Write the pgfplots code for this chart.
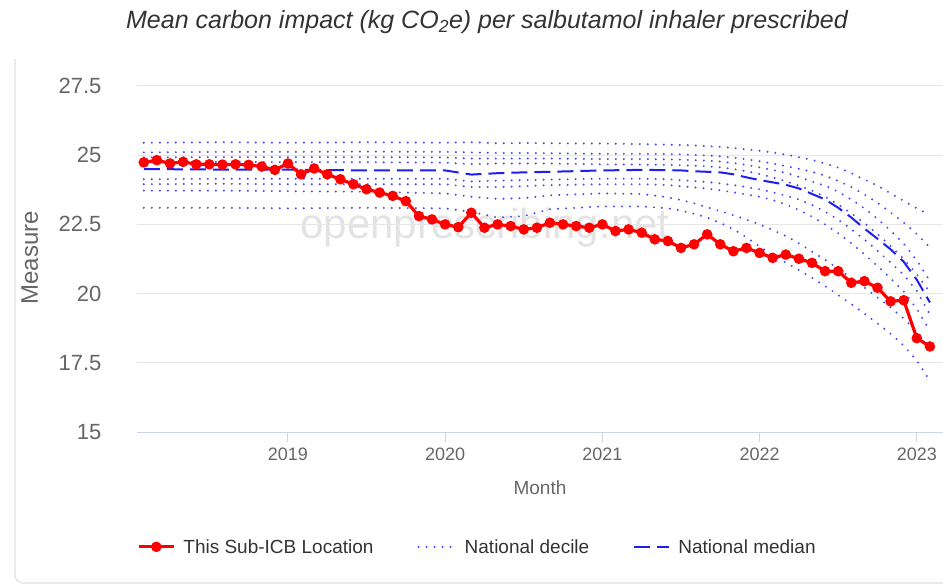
\documentclass[border=0pt]{standalone}
\usepackage{fontspec}
\setmainfont{Liberation Sans}
\usepackage{pgfplots}
\usepackage{pgfplotstable}
\pgfplotsset{compat=1.18}
\definecolor{axisc}{HTML}{CCD6EB}
\definecolor{gridc}{HTML}{E6E6E6}
\definecolor{tickc}{HTML}{666666}
\definecolor{legc}{HTML}{333333}
\definecolor{decc}{RGB}{70,70,255}
\definecolor{medc}{RGB}{30,30,240}
\definecolor{wmc}{HTML}{E3E3E3}
\definecolor{cardc}{HTML}{E0E0E0}

\pgfplotstableread{
i  d10   d20   d30   d40   d50   d60   d70   d80   d90
0  23.10 23.72 23.95 24.13 24.50 24.74 24.92 25.10 25.45
6  23.10 23.72 23.97 24.15 24.48 24.76 24.93 25.12 25.47
11 23.08 23.70 23.95 24.15 24.48 24.75 24.93 25.12 25.45
17 23.10 23.68 23.95 24.15 24.45 24.75 24.93 25.13 25.47
23 23.08 23.62 23.95 24.15 24.45 24.73 24.92 25.12 25.45
25 22.95 23.50 23.85 24.05 24.30 24.68 24.88 25.10 25.47
27 22.75 23.42 23.85 24.08 24.35 24.70 24.88 25.08 25.43
29 22.80 23.45 23.88 24.10 24.38 24.70 24.88 25.08 25.44
31 23.05 23.55 23.92 24.12 24.40 24.70 24.88 25.07 25.43
35 23.15 23.62 23.95 24.15 24.45 24.67 24.86 25.05 25.42
38 23.15 23.60 23.95 24.15 24.47 24.66 24.86 25.05 25.40
40 23.08 23.48 23.92 24.13 24.46 24.65 24.85 25.04 25.38
41 23.00 23.38 23.88 24.10 24.45 24.64 24.84 25.03 25.37
42 22.88 23.26 23.84 24.07 24.42 24.62 24.82 25.01 25.35
43 22.75 23.12 23.79 24.03 24.40 24.60 24.80 24.99 25.33
44 22.55 22.98 23.73 23.98 24.38 24.56 24.77 24.96 25.30
45 22.33 22.83 23.66 23.92 24.31 24.50 24.72 24.91 25.26
46 22.03 22.67 23.58 23.85 24.20 24.42 24.65 24.85 25.21
47 21.70 22.50 23.50 23.77 24.10 24.32 24.56 24.78 25.16
48 21.40 22.30 23.38 23.66 24.02 24.20 24.47 24.70 25.10
49 21.12 22.08 23.22 23.54 23.93 24.06 24.36 24.61 25.02
50 20.85 21.82 23.02 23.40 23.80 23.90 24.22 24.51 24.93
51 20.57 21.52 22.78 23.20 23.60 23.72 24.05 24.40 24.83
52 20.27 21.22 22.50 22.96 23.40 23.50 23.90 24.26 24.70
53 19.95 20.90 22.18 22.67 23.10 23.22 23.68 24.07 24.55
54 19.62 20.57 21.82 22.33 22.75 22.90 23.40 23.85 24.35
55 19.28 20.22 21.42 21.95 22.35 22.55 23.08 23.58 24.12
56 18.92 19.86 21.00 21.55 21.98 22.15 22.70 23.28 23.90
57 18.55 19.50 20.55 21.12 21.60 21.72 22.28 22.93 23.62
58 18.12 19.10 20.08 20.68 21.15 21.25 21.80 22.57 23.35
59 17.58 18.62 19.45 20.10 20.50 20.70 21.20 22.15 23.08
60 16.85 17.97 18.65 19.24 19.68 20.05 20.45 21.67 22.84
}\deciles

\pgfplotstableread{
i v
0 24.74
1 24.82
2 24.70
3 24.76
4 24.67
5 24.67
6 24.66
7 24.67
8 24.65
9 24.59
10 24.47
11 24.70
12 24.31
13 24.52
14 24.31
15 24.13
16 23.95
17 23.77
18 23.65
19 23.53
20 23.34
21 22.80
22 22.68
23 22.50
24 22.40
25 22.92
26 22.38
27 22.50
28 22.44
29 22.32
30 22.38
31 22.56
32 22.50
33 22.44
34 22.38
35 22.50
36 22.26
37 22.32
38 22.20
39 21.96
40 21.90
41 21.65
42 21.78
43 22.14
44 21.78
45 21.53
46 21.65
47 21.47
48 21.29
49 21.41
50 21.26
51 21.11
52 20.81
53 20.81
54 20.39
55 20.45
56 20.21
57 19.72
58 19.76
59 18.39
60 18.09
}\local

\pgfplotsset{
  decile/.style={decc, line width=2.2pt, line cap=round, dash pattern=on 0pt off 8pt, mark=none},
  median/.style={medc, line width=2pt, dash pattern=on 16pt off 7pt, mark=none},
  redline/.style={red, line width=3.2pt, mark=*, mark size=3.6pt, mark options={fill=red, draw=red, solid}},
}

\begin{document}
\begin{tikzpicture}
\path[use as bounding box] (0pt,0pt) rectangle (943pt,587pt);
\draw[cardc, line width=1.2pt, rounded corners=8pt] (15pt,528pt) -- (15pt,4pt) -- (980pt,4pt);
\node[text=wmc, font=\fontsize{42}{42}\selectfont] at (485pt,359pt) {openprescribing.net};
\node[text=legc, font=\fontsize{25}{25}\selectfont\itshape] at (487pt,565pt) {Mean carbon impact (kg CO\textsubscript{2}e) per salbutamol inhaler prescribed};
\begin{axis}[
  at={(137pt,155pt)}, anchor=south west,
  scale only axis, width=806pt, height=346pt,
  xmin=-0.52, xmax=61, ymin=15, ymax=27.5,
  axis x line*=bottom, axis y line*=left,
  x axis line style={draw=axisc, line width=1pt},
  y axis line style={draw=none},
  xtick={11,23,35,47,59}, xticklabels={2019,2020,2021,2022,2023},
  ytick={15,17.5,20,22.5,25,27.5}, yticklabels={15,17.5,20,22.5,25,27.5},
  x tick style={draw=axisc, line width=1pt},
  y tick style={draw=none},
  tick align=outside, major tick length=10pt,
  ymajorgrids, grid style={draw=gridc, line width=1pt},
  x tick label style={font=\fontsize{18}{18}\selectfont, text=tickc, yshift=-2pt},
  y tick label style={font=\fontsize{22}{22}\selectfont, text=tickc, xshift=-22pt},
  xlabel={Month}, ylabel={Measure},
  xlabel style={font=\fontsize{19}{19}\selectfont, text=tickc, at={(axis description cs:0.5,-0.162)}, anchor=center},
  ylabel style={font=\fontsize{24}{24}\selectfont, text=tickc, at={(axis description cs:-0.133,0.503)}, anchor=center},
  /pgf/number format/assume math mode=true,
  legend columns=3,
  legend style={at={(axis description cs:0,-0.332)}, anchor=west, draw=none, fill=none,
    font=\fontsize{19}{19}\selectfont, text=legc, inner sep=0pt,
    /tikz/every odd column/.append style={column sep=6pt},
    /tikz/every even column/.append style={column sep=42pt}},
]
\addlegendimage{red, legend image code/.code={\draw[red, line width=3.2pt, mark=*, mark size=3.6pt, mark options={fill=red, draw=red}, mark repeat=2, mark phase=2] plot coordinates {(0pt,0pt) (17.5pt,0pt) (35pt,0pt)};}}
\addlegendentry{This Sub-ICB Location}
\addlegendimage{decc, legend image code/.code={\draw[decc, line width=2.2pt, line cap=round, dash pattern=on 0pt off 8pt] (0pt,0pt) -- (37pt,0pt);}}
\addlegendentry{National decile}
\addlegendimage{medc, legend image code/.code={\draw[medc, line width=2pt, dash pattern=on 16pt off 7pt] (0pt,0pt) -- (35pt,0pt);}}
\addlegendentry{National median}
\addplot[decile, forget plot] table[x=i, y=d10] {\deciles};
\addplot[decile, forget plot] table[x=i, y=d20] {\deciles};
\addplot[decile, forget plot] table[x=i, y=d30] {\deciles};
\addplot[decile, forget plot] table[x=i, y=d40] {\deciles};
\addplot[decile, forget plot] table[x=i, y=d60] {\deciles};
\addplot[decile, forget plot] table[x=i, y=d70] {\deciles};
\addplot[decile, forget plot] table[x=i, y=d80] {\deciles};
\addplot[decile, forget plot] table[x=i, y=d90] {\deciles};
\addplot[median, forget plot] table[x=i, y=d50] {\deciles};
\addplot[redline, forget plot] table[x=i, y=v] {\local};
\end{axis}
\end{tikzpicture}
\end{document}
